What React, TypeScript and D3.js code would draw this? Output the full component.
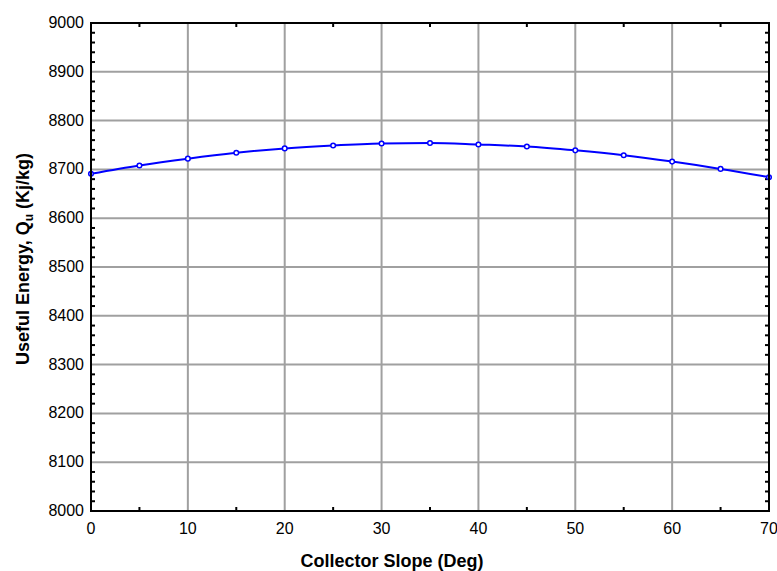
import React, { useEffect, useRef } from "react";
import * as d3 from "d3";

// collector slope (deg) vs useful energy Qu (kJ/kg)
const slopes = [0, 5, 10, 15, 20, 25, 30, 35, 40, 45, 50, 55, 60, 65, 70];
const energy = [8691, 8708, 8722, 8734, 8743, 8749, 8753, 8754, 8751, 8747, 8739, 8729, 8716, 8701, 8684];
const xTicks = [0, 10, 20, 30, 40, 50, 60, 70];
const yTicks = [8000, 8100, 8200, 8300, 8400, 8500, 8600, 8700, 8800, 8900, 9000];

const W = 777, H = 571;
const margin = { top: 23, right: 8, bottom: 60, left: 91 };

export default function App() {
  const ref = useRef<SVGSVGElement>(null);

  useEffect(() => {
    const svg = d3.select(ref.current);
    svg.selectAll("*").remove();

    const x = d3.scaleLinear().domain([0, 70]).range([margin.left, W - margin.right]);
    const y = d3.scaleLinear().domain([8000, 9000]).range([H - margin.bottom, margin.top]);
    const [x0, x1] = x.range();
    const [y0, y1] = y.range();

    // grid lines
    const grid = svg.append("g").attr("stroke", "#a0a0a0").attr("stroke-width", 2);
    grid.selectAll("line.gx")
      .data(xTicks.slice(1, -1))
      .enter().append("line")
      .attr("x1", d => x(d)).attr("x2", d => x(d))
      .attr("y1", y1).attr("y2", y0);
    grid.selectAll("line.gy")
      .data(yTicks.slice(1, -1))
      .enter().append("line")
      .attr("y1", d => y(d)).attr("y2", d => y(d))
      .attr("x1", x0).attr("x2", x1);

    // minor ticks, pointing inward on every side
    const tickLen = 4;
    const xMinor = d3.range(5, 70, 5).filter(v => v % 10 !== 0);
    const yMinor = d3.range(8020, 9000, 20).filter(v => v % 100 !== 0);
    const ticks = svg.append("g").attr("stroke", "#000").attr("stroke-width", 2);
    xMinor.forEach(v => {
      ticks.append("line").attr("x1", x(v)).attr("x2", x(v)).attr("y1", y0).attr("y2", y0 - tickLen);
      ticks.append("line").attr("x1", x(v)).attr("x2", x(v)).attr("y1", y1).attr("y2", y1 + tickLen);
    });
    yMinor.forEach(v => {
      ticks.append("line").attr("y1", y(v)).attr("y2", y(v)).attr("x1", x0).attr("x2", x0 + tickLen);
      ticks.append("line").attr("y1", y(v)).attr("y2", y(v)).attr("x1", x1).attr("x2", x1 - tickLen);
    });

    // curve
    const pts = slopes.map((s, i) => ({ s, e: energy[i] }));
    const line = d3.line<{ s: number; e: number }>()
      .x(d => x(d.s))
      .y(d => y(d.e))
      .curve(d3.curveMonotoneX);
    svg.append("path")
      .datum(pts)
      .attr("d", line)
      .attr("fill", "none")
      .attr("stroke", "#0000ff")
      .attr("stroke-width", 2);
    svg.append("g")
      .selectAll("circle")
      .data(pts)
      .enter().append("circle")
      .attr("cx", d => x(d.s))
      .attr("cy", d => y(d.e))
      .attr("r", 2.3)
      .attr("fill", "#fff")
      .attr("stroke", "#0000ff")
      .attr("stroke-width", 1.5);

    // frame
    svg.append("rect")
      .attr("x", x0).attr("y", y1)
      .attr("width", x1 - x0).attr("height", y0 - y1)
      .attr("fill", "none")
      .attr("stroke", "#000")
      .attr("stroke-width", 2);

    // tick labels
    const font = "Liberation Sans, Arial, sans-serif";
    svg.append("g").selectAll("text")
      .data(xTicks)
      .enter().append("text")
      .attr("x", d => x(d))
      .attr("y", y0 + 22.5)
      .attr("text-anchor", "middle")
      .style("font-family", font)
      .style("font-size", "16px")
      .text(d => d);
    svg.append("g").selectAll("text")
      .data(yTicks)
      .enter().append("text")
      .attr("x", x0 - 7)
      .attr("y", d => y(d) + 5)
      .attr("text-anchor", "end")
      .style("font-family", font)
      .style("font-size", "16px")
      .text(d => d);

    // axis titles
    svg.append("text")
      .attr("x", 392)
      .attr("y", 567)
      .attr("text-anchor", "middle")
      .style("font-family", font)
      .style("font-size", "18px")
      .style("font-weight", "bold")
      .text("Collector Slope (Deg)");

    const yt = svg.append("text")
      .attr("transform", "translate(29,259) rotate(-90)")
      .attr("text-anchor", "middle")
      .style("font-family", font)
      .style("font-size", "18px")
      .style("font-weight", "bold");
    yt.append("tspan").text("Useful Energy, Q");
    yt.append("tspan").attr("dy", 4).style("font-size", "12px").text("u");
    yt.append("tspan").attr("dy", -4).text(" (Kj/kg)");
  }, []);

  return (
    <svg
      ref={ref}
      width={W}
      height={H}
      style={{ position: "absolute", left: 0, top: 0, background: "#fff" }}
    />
  );
}
